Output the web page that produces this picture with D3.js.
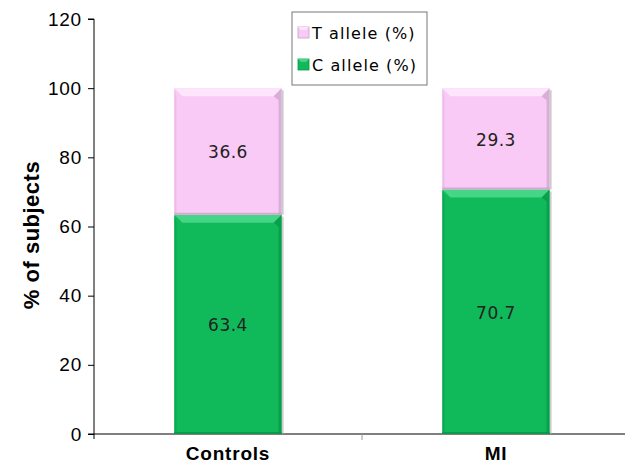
<!DOCTYPE html>
<html lang="en">
  <head>
    <meta charset="utf-8" />
    <title>Allele frequencies</title>
    <script src="https://d3js.org/d3.v7.min.js"></script>
    <style>
      body { margin: 0; background: #fff; }
      svg { display: block; }
      .tick text { font-family: 'Liberation Sans', Arial, sans-serif; font-size: 19px; letter-spacing: 0.8px; fill: #000; }
    </style>
  </head>
  <body>
    <svg width="625" height="467"></svg>
    <script>

    var groups = ["Controls", "MI"],
        cAllele = [63.4, 70.7],
        tAllele = [36.6, 29.3],
        yTicks = [0, 20, 40, 60, 80, 100, 120];

    var series = [
      {name: "C allele (%)", legend: "C allele (%)", values: cAllele, fill: "#10b95a", light: "#45d587", dark: "#0a9447", side: "#0ca850"},
      {name: "T allele (%)", legend: "T allele (%)", values: tAllele, fill: "#f9caf5", light: "#fde6fb", dark: "#c9a2c6", side: "#efbaeb"}
    ];

    var svg = d3.select("svg");

    var x = d3.scaleBand().domain(groups).range([94, 630]),
        y = d3.scaleLinear().domain([0, 120]).range([434, 19]);

    var barW = x.bandwidth() * 0.4,
        bev = 8;

    // y axis
    svg.append("g")
        .attr("transform", "translate(94,0)")
        .call(d3.axisLeft(y).tickValues(yTicks).tickSize(6).tickPadding(6))
        .call(function(g) {
          g.select(".domain").attr("stroke", "#000").attr("d", "M-6," + y(120) + "H0V" + (y(0) + 5));
          g.selectAll(".tick line").attr("stroke", "#000");
        });

    // x axis
    var xa = svg.append("g").attr("transform", "translate(0," + y(0) + ")");
    xa.append("line").attr("x1", 88).attr("x2", 625).attr("stroke", "#000");
    xa.append("line")
        .attr("x1", x("MI")).attr("x2", x("MI"))
        .attr("y1", 0).attr("y2", 6)
        .attr("stroke", "#999");
    xa.selectAll(".cat")
        .data(groups)
        .enter().append("text")
        .attr("class", "cat")
        .attr("x", function(d) { return x(d) + x.bandwidth() / 2; })
        .attr("y", 26)
        .attr("text-anchor", "middle")
        .style("font-family", "'Liberation Sans', Arial, sans-serif")
        .style("font-weight", "bold")
        .style("font-size", "19px")
        .style("letter-spacing", "0.8px")
        .text(function(d) { return d; });

    // stacked bars
    var bars = svg.append("g");
    groups.forEach(function(grp, i) {
      var base = 0;
      series.forEach(function(s) {
        var v = s.values[i],
            x0 = x(grp) + (x.bandwidth() - barW) / 2,
            x1 = x0 + barW,
            yTop = y(base + v),
            yBot = y(base);
        var b = bars.append("g");
        // shadow
        b.append("rect")
            .attr("x", x1).attr("y", yTop + 2)
            .attr("width", 2).attr("height", yBot - yTop - 2)
            .attr("fill", "#aaa").attr("opacity", 0.6);
        b.append("rect")
            .attr("x", x0).attr("y", yTop)
            .attr("width", barW).attr("height", yBot - yTop)
            .attr("fill", s.fill);
        // bevel top
        b.append("polygon")
            .attr("points", [[x0, yTop], [x1, yTop], [x1 - bev, yTop + bev], [x0 + bev, yTop + bev]].join(" "))
            .attr("fill", s.light);
        // bevel left
        b.append("polygon")
            .attr("points", [[x0, yTop], [x0 + 2, yTop + bev], [x0 + 2, yBot], [x0, yBot]].join(" "))
            .attr("fill", s.side);
        // bevel right
        b.append("polygon")
            .attr("points", [[x1, yTop], [x1 - bev, yTop + bev], [x1 - 3, yTop + bev + 4], [x1 - 3, yBot], [x1, yBot]].join(" "))
            .attr("fill", s.dark).attr("opacity", 0.7);
        // bottom edge
        b.append("rect")
            .attr("x", x0).attr("y", yBot - 2)
            .attr("width", barW).attr("height", 2)
            .attr("fill", s.dark).attr("opacity", 0.8);
        b.append("text")
            .attr("x", (x0 + x1) / 2)
            .attr("y", (yTop + yBot) / 2 + 7)
            .attr("text-anchor", "middle")
            .style("font-family", "'DejaVu Sans', Verdana, sans-serif")
            .style("font-size", "17px")
            .style("letter-spacing", "0.5px")
            .style("fill", "#222")
            .text(v.toFixed(1));
        base += v;
      });
    });

    // y label
    svg.append("text")
        .attr("transform", "translate(39,235) rotate(-90)")
        .attr("text-anchor", "middle")
        .style("font-family", "'Liberation Sans', Arial, sans-serif")
        .style("font-weight", "bold")
        .style("font-size", "22px")
        .style("letter-spacing", "0.5px")
        .text("% of subjects");

    // legend
    var lg = svg.append("g").attr("transform", "translate(292,12)");
    lg.append("rect")
        .attr("width", 135).attr("height", 73)
        .attr("fill", "#fff").attr("stroke", "#777");
    var items = series.slice().reverse();
    items.forEach(function(s, i) {
      var row = lg.append("g").attr("transform", "translate(6," + (15 + i * 32) + ")");
      row.append("rect").attr("width", 11).attr("height", 11).attr("fill", s.fill).attr("stroke", s.dark).attr("stroke-width", 0.8);
      row.append("polygon").attr("points", "0,0 11,0 8,3 3,3").attr("fill", s.light);
      row.append("text")
          .attr("x", 14).attr("y", 12)
          .style("font-family", "'DejaVu Sans', Verdana, sans-serif")
          .style("font-size", "16px")
          .style("letter-spacing", "1.1px")
          .text(s.legend);
    });

    </script>
  </body>
</html>
